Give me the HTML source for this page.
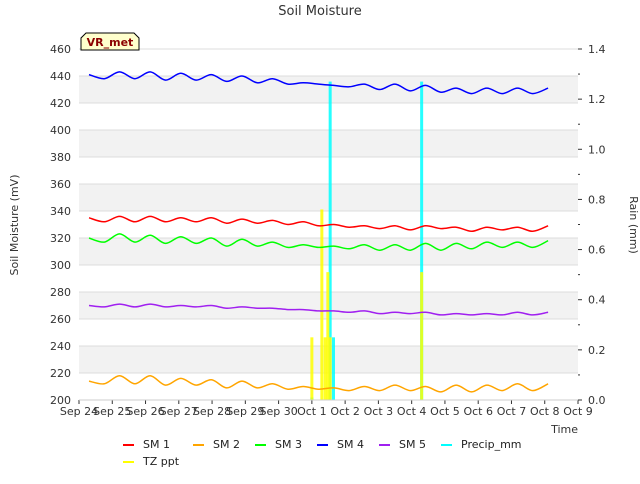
<!DOCTYPE html>
<html><head><meta charset="utf-8"><style>
body{margin:0;background:#fff;font-family:"DejaVu Sans","Liberation Sans",sans-serif}
svg text{font-family:"DejaVu Sans","Liberation Sans",sans-serif}
</style></head><body>
<svg id="c" width="640" height="480" xmlns="http://www.w3.org/2000/svg">
<rect width="640" height="480" fill="#fff"/>
<g id="bands"></g><g id="grid"></g><g id="bars"></g><g id="lines"></g><g id="axes"></g>
<text x="320" y="15" text-anchor="middle" font-size="13" fill="#333">Soil Moisture</text>
<text transform="translate(18,225) rotate(-90)" text-anchor="middle" font-size="11" fill="#333">Soil Moisture (mV)</text>
<text transform="translate(630,225) rotate(90)" text-anchor="middle" font-size="11" fill="#333">Rain (mm)</text>
<text x="578" y="433" text-anchor="end" font-size="11" fill="#333">Time</text>
<g>
<path d="M81,50 L81,38 L86,33 L134,33 L139,38 L139,50 Z" fill="#ffffcc" stroke="#000" stroke-width="1"/>
<text x="110" y="46" text-anchor="middle" font-size="11" font-weight="bold" fill="#8b0000">VR_met</text>
</g>
<g id="legend"></g>
</svg>
<script>
const days=['Sep 24','Sep 25','Sep 26','Sep 27','Sep 28','Sep 29','Sep 30','Oct 1','Oct 2','Oct 3','Oct 4','Oct 5','Oct 6','Oct 7','Oct 8','Oct 9'];
const yTicks=[200,220,240,260,280,300,320,340,360,380,400,420,440,460];
const y2Ticks=[0,0.2,0.4,0.6,0.8,1.0,1.2,1.4];
const sm1=[335,332,336,332,336,332,335,332,335,331,334,331,333,330,332,329,330,328,329,327,329,326,329,327,328,325,328,326,328,325,329];
const sm2=[214,212,218,212,218,211,216,211,215,209,214,209,212,208,210,208,209,207,210,207,211,207,210,206,211,206,211,207,212,207,212];
const sm3=[320,317,323,317,322,316,321,316,320,314,319,314,317,313,315,313,314,312,315,311,315,311,316,311,316,312,317,313,317,313,318];
const sm4=[441,438,443,438,443,437,442,437,441,436,440,435,438,434,435,434,433,432,434,430,434,429,433,428,431,427,431,427,431,427,431];
const sm5=[270,269,271,269,271,269,270,269,270,268,269,268,268,267,267,266,266,265,266,264,265,264,265,263,264,263,264,263,265,263,265];
const tStart=0.3, tStep=0.46;
const precipT=[7.0,7.55,7.65,10.3];
const precipV=[0.01,1.27,0.25,1.27];
const tzT=[7.0,7.3,7.4,7.48,7.55,10.3];
const tzV=[0.25,0.76,0.25,0.51,0.25,0.51];
const X0=79,X1=578,Y0=400,Y1=49;
const xs=t=>X0+(X1-X0)*t/15;
const ys=v=>Y0-(Y0-Y1)*(v-200)/260;
const y2s=v=>Y0-(Y0-Y1)*v/1.4;
const NS='http://www.w3.org/2000/svg';
function mk(tag,attrs,parent){const e=document.createElementNS(NS,tag);for(const k in attrs)e.setAttribute(k,attrs[k]);document.getElementById(parent).appendChild(e);return e;}
for(let i=0;i<yTicks.length-1;i++){if(i%2===1){const r=mk('rect',{x:X0,y:ys(yTicks[i+1]),width:X1-X0,height:ys(yTicks[i])-ys(yTicks[i+1]),fill:'#f2f2f2'},'bands');

}}
yTicks.forEach(v=>{const l=mk('line',{x1:X0,x2:X1,y1:ys(v),y2:ys(v),stroke:'#dcdcdc','stroke-width':1},'grid');


const t=mk('text',{x:X0-8,y:ys(v)+4,'text-anchor':'end','font-size':11,fill:'#333'},'axes');t.textContent=v;

});
y2Ticks.forEach((v,i)=>{const t=mk('text',{x:X1+10,y:y2s(v)+4,'font-size':11,fill:'#333'},'axes');t.textContent=v.toFixed(1);


mk('line',{x1:X1,x2:X1+4,y1:y2s(v),y2:y2s(v),stroke:'#333'},'axes');
if(i<y2Ticks.length-1)mk('line',{x1:X1,x2:X1+2,y1:y2s(v+0.1),y2:y2s(v+0.1),stroke:'#333'},'axes');});
days.forEach((d,i)=>{mk('line',{x1:xs(i),x2:xs(i),y1:Y0,y2:Y0+4,stroke:'#333'},'axes');
const t=mk('text',{x:xs(i),y:Y0+15,'text-anchor':'middle','font-size':11,fill:'#333'},'axes');t.textContent=d;

});
mk('line',{x1:X0,x2:X1,y1:Y0,y2:Y0,stroke:'#ccc'},'axes');
precipT.forEach((t,i)=>{const r=mk('rect',{x:xs(t)-1.5,y:y2s(precipV[i]),width:3,height:Y0-y2s(precipV[i]),fill:'#00ffff',opacity:0.85},'bars');

});
tzT.forEach((t,i)=>{const r=mk('rect',{x:xs(t)-1.5,y:y2s(tzV[i]),width:3,height:Y0-y2s(tzV[i]),fill:'#ffff00',opacity:0.85},'bars');

});
const series=[['SM 1',sm1,'#ff0000'],['SM 2',sm2,'#ffa500'],['SM 3',sm3,'#00ff00'],['SM 4',sm4,'#0000ff'],['SM 5',sm5,'#a020f0']];
series.forEach(([n,arr,c])=>{const P=arr.map((v,i)=>[xs(tStart+i*tStep),ys(v)]);
let d='M'+P[0][0].toFixed(1)+','+P[0][1].toFixed(1);
for(let i=0;i<P.length-1;i++){const p0=P[Math.max(0,i-1)],p1=P[i],p2=P[i+1],p3=P[Math.min(P.length-1,i+2)];
const c1=[p1[0]+(p2[0]-p0[0])/6,p1[1]+(p2[1]-p0[1])/6],c2=[p2[0]-(p3[0]-p1[0])/6,p2[1]-(p3[1]-p1[1])/6];
d+='C'+c1[0].toFixed(1)+','+c1[1].toFixed(1)+' '+c2[0].toFixed(1)+','+c2[1].toFixed(1)+' '+p2[0].toFixed(1)+','+p2[1].toFixed(1);}
const p=mk('path',{d:d,fill:'none',stroke:c,'stroke-width':1.5},'lines');

});
const leg=[['SM 1','#ff0000',123,444],['SM 2','#ffa500',193,444],['SM 3','#00ff00',255,444],['SM 4','#0000ff',317,444],['SM 5','#a020f0',379,444],['Precip_mm','#00ffff',441,444],['TZ ppt','#ffff00',123,461]];
leg.forEach(([n,c,x,y])=>{const g=mk('g',{},'legend');


const l=document.createElementNS(NS,'line');l.setAttribute('x1',x);l.setAttribute('x2',x+11);l.setAttribute('y1',y+1);l.setAttribute('y2',y+1);l.setAttribute('stroke',c);l.setAttribute('stroke-width',2);g.appendChild(l);
const t=document.createElementNS(NS,'text');t.setAttribute('x',x+20);t.setAttribute('y',y+4);t.setAttribute('font-size',11);t.setAttribute('fill','#222');t.textContent=n;g.appendChild(t);});
</script>
</body></html>
